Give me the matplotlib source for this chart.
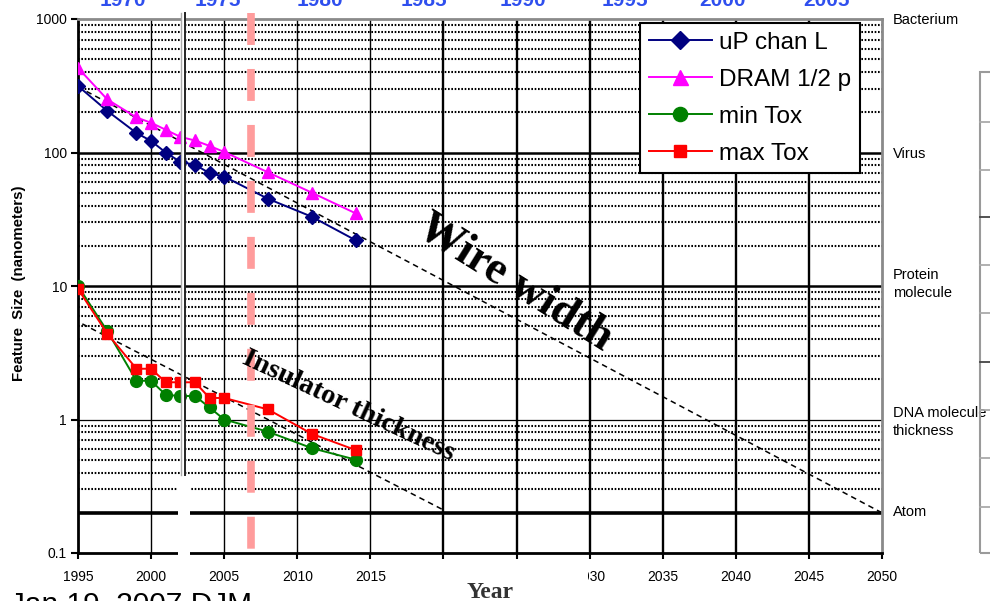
import matplotlib
matplotlib.use('Agg')
import matplotlib.pyplot as plt
import matplotlib.transforms as mtransforms
from matplotlib.lines import Line2D
from matplotlib.patches import Rectangle
from matplotlib.ticker import NullLocator

plt.rcParams['font.family'] = ['Liberation Sans', 'DejaVu Sans']
plt.rcParams['lines.scale_dashes'] = False

# ---------------- data ----------------
years = [1995, 1997, 1999, 2000, 2001, 2002, 2003, 2004, 2005, 2008, 2011, 2014]
up_chan_L = [315, 205, 140, 122, 100, 85, 81, 70, 66, 45, 33, 22]
dram_half_p = [430, 250, 183, 167, 148, 131, 123, 112, 101, 71, 50, 35]
min_tox = [10, 4.6, 1.95, 1.95, 1.53, 1.5, 1.5, 1.23, 1.0, 0.81, 0.61, 0.5]
max_tox = [9.5, 4.4, 2.4, 2.4, 1.9, 1.9, 1.9, 1.45, 1.45, 1.19, 0.78, 0.59]

wire_trend_years = [1995, 2050]
wire_trend_vals = [310, 0.2]
insul_trend_years = [1995.3, 2020]
insul_trend_vals = [5.2, 0.21]

atom_size = 0.2
marker_year = 2006.83

x_ticks = list(range(1995, 2051, 5))
x_tick_labels = ['1995', '2000', '2005', '2010', '2015', '', '', '2030',
                 '2035', '2040', '2045', '2050']
y_ticks = [0.1, 1, 10, 100, 1000]
y_tick_labels = ['0.1', '1', '10', '100', '1000']

top_years = ['1970', '1975', '1980', '1985', '1990', '1995', '2000', '2005']
top_year_px = [123, 218, 320, 424, 523, 625, 722, 827]

scale_labels = ['Bacterium', 'Virus', 'Protein\nmolecule', 'DNA molecule\nthickness', 'Atom']
scale_label_py = [20, 154, 284, 422, 512]

# ---------------- figure ----------------
W, H = 990, 601
fig = plt.figure(figsize=(9.9, 6.01), dpi=100)


def fx(px):
    return px / W


def fy(py):
    return 1 - py / H


ax = fig.add_axes([fx(78), fy(553), fx(882) - fx(78), fy(19) - fy(553)])
ax.set_yscale('log')
ax.set_xlim(1995, 2050)
ax.set_ylim(0.1, 1000)

# grid lines
for dec in [0.1, 1, 10, 100]:
    for m in range(2, 10):
        ax.axhline(dec * m, color='black', lw=1.5, ls=(0, (1.2, 1.2)), zorder=1)
for v, lw in [(1, 0.9), (10, 1.8), (100, 1.8)]:
    ax.axhline(v, color='black', lw=lw, zorder=1.1)
ax.axhline(atom_size, color='black', lw=2.6, zorder=1.2)
for yr in range(2000, 2050, 5):
    ax.axvline(yr, color='black', lw=1.0 if yr <= 2015 else 1.7, zorder=1.1)

# trend lines
ax.plot(wire_trend_years, wire_trend_vals, color='black', lw=1.1,
        dashes=(4, 3), zorder=2)
ax.plot(insul_trend_years, insul_trend_vals, color='black', lw=1.1,
        dashes=(4, 3), zorder=2)

# data series
l1, = ax.plot(years, up_chan_L, color='#000080', marker='D', ms=7.5, lw=1.4,
              label='uP chan L', zorder=4)
l2, = ax.plot(years, dram_half_p, color='#ff00ff', marker='^', ms=9, lw=1.4,
              label='DRAM 1/2 p', zorder=4)
l3, = ax.plot(years, min_tox, color='#008000', marker='o', ms=8.5, lw=1.4,
              label='min Tox', zorder=4)
l4, = ax.plot(years, max_tox, color='#ff0000', marker='s', ms=7.5, lw=1.4,
              label='max Tox', zorder=4)

# pink dashed marker line
trans = mtransforms.blended_transform_factory(ax.transData, fig.transFigure)
ax.plot([marker_year, marker_year], [fy(13), fy(549)], transform=trans,
        color='#ff9c9c', lw=5.5, dashes=(23, 17.3), clip_on=False,
        dash_capstyle='butt', zorder=6)

# axes styling
ax.set_xticks(x_ticks)
ax.set_xticklabels(x_tick_labels)
ax.set_yticks(y_ticks)
ax.set_yticklabels(y_tick_labels)
ax.yaxis.set_minor_locator(NullLocator())
ax.tick_params(axis='x', direction='out', length=4, width=1.5, labelsize=10, pad=8)
ax.tick_params(axis='y', direction='out', length=5, width=1.5, labelsize=10, pad=3)
for s in ['left', 'bottom']:
    ax.spines[s].set_color('black')
    ax.spines[s].set_linewidth(2)
for s in ['top', 'right']:
    ax.spines[s].set_color('#8a8a8a')
    ax.spines[s].set_linewidth(2)

fig.text(fx(19), fy(283), 'Feature  Size  (nanometers)', rotation=90,
         ha='center', va='center', fontsize=10.8, fontweight='bold')

# legend
leg = ax.legend(handles=[l1, l2, l3, l4], loc='upper left',
                bbox_to_anchor=(fx(640), fy(23)), bbox_transform=fig.transFigure,
                borderaxespad=0, fontsize=17.5, frameon=True, fancybox=False,
                edgecolor='black', framealpha=1, borderpad=0.35,
                handlelength=2.6, handletextpad=0.3, labelspacing=0.62,
                markerscale=1.2)
leg.get_frame().set_linewidth(1.5)
leg.set_zorder(7)

# right-side scale labels
for lab, py in zip(scale_labels, scale_label_py):
    fig.text(fx(893), fy(py), lab, ha='left', va='center', fontsize=10.5,
             linespacing=1.35)

# top clipped blue years
for lab, px in zip(top_years, top_year_px):
    fig.text(fx(px), fy(5.5), lab, ha='center', va='baseline', fontsize=15,
             fontweight='bold', color='#2f4fee')

# big annotations
fig.text(fx(515), fy(283), 'Wire width', rotation=-32, ha='center', va='center',
         fontsize=33, fontweight='bold', family=['Liberation Serif', 'DejaVu Serif'],
         zorder=5)
fig.text(fx(349), fy(406), 'Insulator thickness', rotation=-25, ha='center',
         va='center', fontsize=20.5, fontweight='bold',
         family=['Liberation Serif', 'DejaVu Serif'], zorder=5)

# collage artefacts: double vertical line and white gap
fig.add_artist(Rectangle((fx(181.5), fy(475)), fx(3), fy(13) - fy(475),
                         transform=fig.transFigure, facecolor='white',
                         edgecolor='none', zorder=8))
fig.add_artist(Line2D([fx(181.3), fx(181.3)], [fy(13), fy(475)],
                      transform=fig.transFigure, color='#aaaaaa', lw=1.0, zorder=9))
fig.add_artist(Line2D([fx(184.6), fx(184.6)], [fy(13), fy(475)],
                      transform=fig.transFigure, color='#222222', lw=1.4, zorder=9))
fig.add_artist(Rectangle((fx(178), fy(567)), fx(12), fy(475) - fy(567),
                         transform=fig.transFigure, facecolor='white',
                         edgecolor='none', zorder=8))
# cover the left part of the 2030 label
fig.add_artist(Rectangle((fx(560), fy(590)), fx(27.5), fy(562) - fy(590),
                         transform=fig.transFigure, facecolor='white',
                         edgecolor='none', zorder=8))

fig.text(fx(490), fy(598.5), 'Year', ha='center', va='baseline', fontsize=17,
         fontweight='bold', color='#333333',
         family=['Liberation Serif', 'DejaVu Serif'], zorder=9)

# partial table box on the far right
fig.add_artist(Rectangle((fx(980), fy(553)), fx(30), fy(72) - fy(553),
                         transform=fig.transFigure, facecolor='none',
                         edgecolor='#9a9a9a', lw=1.5, zorder=8))
for py, c in [(122, '#aaaaaa'), (170, '#aaaaaa'), (217, '#444444'),
              (265, '#aaaaaa'), (313, '#aaaaaa'), (362, '#444444'),
              (410, '#aaaaaa'), (458, '#aaaaaa'), (507, '#aaaaaa')]:
    fig.add_artist(Line2D([fx(980), fx(990)], [fy(py), fy(py)],
                          transform=fig.transFigure, color=c, lw=1.3, zorder=8))

# clipped footer
fig.text(fx(10), fy(613), 'Jan 19, 2007 DJM', ha='left', va='baseline',
         fontsize=21.5)

fig.savefig('out.png', dpi=100)
